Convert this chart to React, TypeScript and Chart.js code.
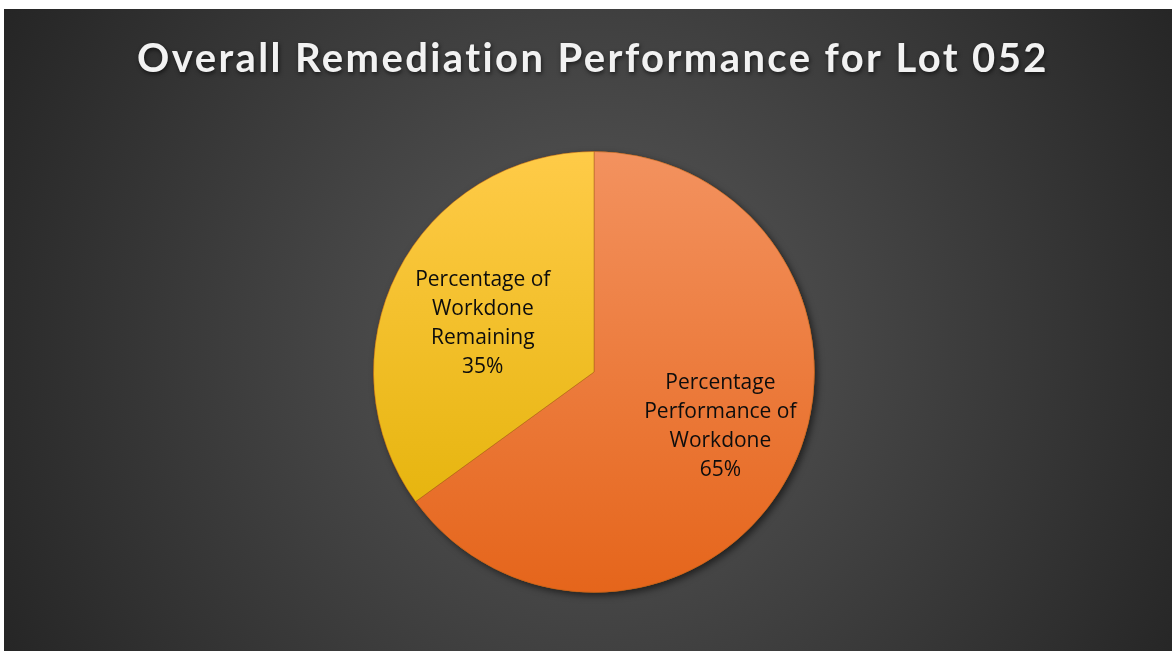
import React, { useEffect, useRef } from "react";
import { Chart, registerables } from "chart.js";

Chart.register(...registerables);

const titleText = "Overall Remediation Performance for Lot 052";
const categories = ["Percentage Performance of Workdone", "Percentage of Workdone Remaining"];
const values = [65, 35];
const labelLines = [
  ["Percentage", "Performance of", "Workdone"],
  ["Percentage of", "Workdone", "Remaining"],
];
const colorsTop = ["#F3925F", "#FFCB48"];
const colorsBottom = ["#E5651B", "#E0AF00"];

const CANVAS_W = 1168;
const CANVAS_H = 642;

const backgroundPlugin = {
  id: "bgRadial",
  beforeDraw(chart: any) {
    const ctx = chart.ctx as CanvasRenderingContext2D;
    const g = ctx.createRadialGradient(590, 330, 0, 590, 330, 690);
    g.addColorStop(0, "#595959");
    g.addColorStop(1, "#242424");
    ctx.save();
    ctx.fillStyle = g;
    ctx.fillRect(0, 0, chart.width, chart.height);
    ctx.restore();
  },
};

const titlePlugin = {
  id: "letterTitle",
  afterDraw(chart: any) {
    const ctx = chart.ctx as any;
    ctx.save();
    ctx.font = "bold 40px Lato";
    ctx.letterSpacing = "2.4px";
    ctx.textAlign = "center";
    ctx.textBaseline = "alphabetic";
    ctx.shadowColor = "rgba(0,0,0,0.6)";
    ctx.shadowBlur = 4;
    ctx.shadowOffsetX = 1;
    ctx.shadowOffsetY = 2;
    ctx.fillStyle = "#F2F2F2";
    ctx.fillText(titleText, 589, 63);
    ctx.restore();
  },
};

const shadowPlugin = {
  id: "pieShadow",
  beforeDatasetsDraw(chart: any) {
    const meta = chart.getDatasetMeta(0);
    const arc = meta.data[0];
    if (!arc) return;
    const ctx = chart.ctx as CanvasRenderingContext2D;
    ctx.save();
    ctx.shadowColor = "rgba(0,0,0,0.55)";
    ctx.shadowBlur = 7;
    ctx.shadowOffsetX = 3;
    ctx.shadowOffsetY = 3;
    ctx.fillStyle = "#E87020";
    ctx.beginPath();
    ctx.arc(arc.x, arc.y, arc.outerRadius, 0, Math.PI * 2);
    ctx.fill();
    ctx.restore();
  },
};

const labelRadius = [0.625, 0.55];
const labelAngleShift = (-3.5 * Math.PI) / 180;

const labelPlugin = {
  id: "sliceLabels",
  afterDatasetsDraw(chart: any) {
    const meta = chart.getDatasetMeta(0);
    const ctx = chart.ctx as CanvasRenderingContext2D;
    const total = values.reduce((a, b) => a + b, 0);
    ctx.save();
    ctx.font = "21px 'Open Sans'";
    ctx.fillStyle = "#0D0D0D";
    ctx.textAlign = "center";
    ctx.textBaseline = "middle";
    meta.data.forEach((arc: any, i: number) => {
      const mid = (arc.startAngle + arc.endAngle) / 2 + labelAngleShift;
      const r = arc.outerRadius * labelRadius[i];
      const lx = arc.x + Math.cos(mid) * r;
      const ly = arc.y + Math.sin(mid) * r;
      const lines = [...labelLines[i], Math.round((values[i] / total) * 100) + "%"];
      const lh = 29;
      lines.forEach((t, j) => {
        ctx.fillText(t, lx, ly + (j - (lines.length - 1) / 2) * lh);
      });
    });
    ctx.restore();
  },
};

export default function App() {
  const ref = useRef<HTMLCanvasElement | null>(null);
  useEffect(() => {
    if (!ref.current) return;
    const chart = new Chart(ref.current, {
      type: "pie",
      data: {
        labels: categories,
        datasets: [
          {
            data: values,
            backgroundColor: (c: any) => {
              const area = c.chart.chartArea;
              const i = c.dataIndex;
              if (!area) return colorsTop[i];
              const g = c.chart.ctx.createLinearGradient(0, area.top, 0, area.bottom);
              g.addColorStop(0, colorsTop[i]);
              g.addColorStop(1, colorsBottom[i]);
              return g;
            },
            borderColor: "rgba(160,90,20,0.45)",
            borderWidth: 1,
          },
        ],
      },
      options: {
        responsive: false,
        animation: false,
        layout: { padding: { top: 142, bottom: 58, left: 12, right: 0 } },
        plugins: {
          legend: { display: false },
          title: { display: false },
          tooltip: { enabled: false },
        },
      },
      plugins: [backgroundPlugin, shadowPlugin, labelPlugin, titlePlugin],
    });
    return () => chart.destroy();
  }, []);
  return (
    <div style={{ position: "absolute", left: 4, top: 9, width: CANVAS_W, height: CANVAS_H }}>
      <canvas ref={ref} width={CANVAS_W} height={CANVAS_H} />
    </div>
  );
}
